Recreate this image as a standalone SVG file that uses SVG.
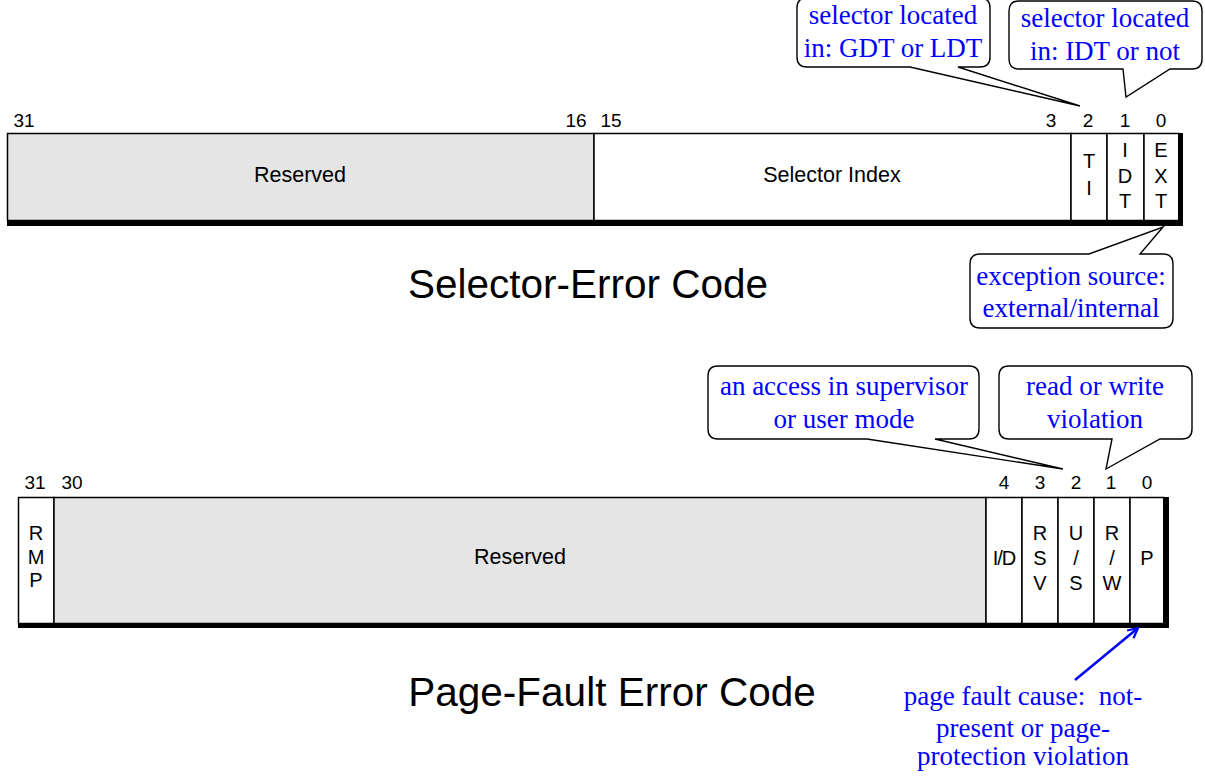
<svg xmlns="http://www.w3.org/2000/svg" width="1205" height="778" viewBox="0 0 1205 778">
<style>
.num{font-family:"Liberation Sans",Arial,sans-serif;font-size:19px;fill:#000;text-anchor:middle}
.let{font-family:"Liberation Sans",Arial,sans-serif;font-size:20px;fill:#000;text-anchor:middle}
.lbl{font-family:"Liberation Sans",Arial,sans-serif;font-size:21.5px;fill:#000;text-anchor:middle}
.ttl{font-family:"Liberation Sans",Arial,sans-serif;font-size:40.5px;fill:#000;text-anchor:middle}
.note{font-family:"Liberation Serif","Times New Roman",serif;font-size:27px;fill:#0000ff;text-anchor:middle}
.bub{fill:#fff;stroke:#000;stroke-width:1.4}
.box{fill:#fff;stroke:#000;stroke-width:1.5}
.res{fill:#e5e5e5;stroke:#000;stroke-width:1.5}
</style>
<defs>
<marker id="ah" viewBox="0 0 12 12" refX="11" refY="6" markerWidth="12" markerHeight="12" markerUnits="userSpaceOnUse" orient="auto">
<path d="M1,1 L11,6 L1,11" fill="none" stroke="#0000ff" stroke-width="2.2"/>
</marker>
</defs>
<rect width="1205" height="778" fill="#fff"/>

<g id="selector-register">
<rect class="res" x="7.5" y="133.5" width="586.5" height="87"/>
<rect class="box" x="594" y="133.5" width="477" height="87"/>
<rect class="box" x="1071" y="133.5" width="36" height="87"/>
<rect class="box" x="1107" y="133.5" width="37" height="87"/>
<rect class="box" x="1144" y="133.5" width="35" height="87"/>
<rect x="7" y="220" width="1176" height="6" fill="#000"/>
<rect x="1178" y="133" width="5" height="93" fill="#000"/>
<text class="num" x="24" y="127">31</text>
<text class="num" x="576" y="127">16</text>
<text class="num" x="611" y="127">15</text>
<text class="num" x="1051" y="127">3</text>
<text class="num" x="1088" y="127">2</text>
<text class="num" x="1125" y="127">1</text>
<text class="num" x="1161" y="127">0</text>
<text class="lbl" x="300" y="182">Reserved</text>
<text class="lbl" x="832" y="182">Selector Index</text>
<text class="let" x="1089" y="168">T</text>
<text class="let" x="1089" y="195">I</text>
<text class="let" x="1125" y="157">I</text>
<text class="let" x="1125" y="183">D</text>
<text class="let" x="1125" y="208">T</text>
<text class="let" x="1161" y="157">E</text>
<text class="let" x="1161" y="183">X</text>
<text class="let" x="1161" y="208">T</text>
</g>
<text class="ttl" x="588" y="298">Selector-Error Code</text>

<g id="pagefault-register">
<rect class="box" x="18.5" y="497.5" width="35.5" height="126"/>
<rect class="res" x="54" y="497.5" width="932" height="126"/>
<rect class="box" x="986" y="497.5" width="36" height="126"/>
<rect class="box" x="1022" y="497.5" width="36" height="126"/>
<rect class="box" x="1058" y="497.5" width="36" height="126"/>
<rect class="box" x="1094" y="497.5" width="36" height="126"/>
<rect class="box" x="1130" y="497.5" width="34" height="126"/>
<rect x="18" y="623" width="1151" height="5" fill="#000"/>
<rect x="1163" y="497" width="6" height="131" fill="#000"/>
<text class="num" x="35" y="489">31</text>
<text class="num" x="72" y="489">30</text>
<text class="num" x="1004" y="489">4</text>
<text class="num" x="1040" y="489">3</text>
<text class="num" x="1076" y="489">2</text>
<text class="num" x="1111" y="489">1</text>
<text class="num" x="1147" y="489">0</text>
<text class="let" x="36" y="540">R</text>
<text class="let" x="36" y="564">M</text>
<text class="let" x="36" y="587">P</text>
<text class="lbl" x="520" y="564">Reserved</text>
<text class="let" x="1004" y="565" style="letter-spacing:-1px">I/D</text>
<text class="let" x="1040" y="540">R</text>
<text class="let" x="1040" y="565">S</text>
<text class="let" x="1040" y="590">V</text>
<text class="let" x="1076" y="540">U</text>
<text class="let" x="1076" y="565">/</text>
<text class="let" x="1076" y="590">S</text>
<text class="let" x="1112" y="540">R</text>
<text class="let" x="1112" y="565">/</text>
<text class="let" x="1112" y="590">W</text>
<text class="let" x="1147" y="565">P</text>
</g>
<text class="ttl" x="612" y="706">Page-Fault Error Code</text>

<g id="callout-ti">
<path class="bub" d="M807,-2 H980 Q990,-2 990,8 V57 Q990,67 980,67 H958 L1080,106 L910,67 H807 Q797,67 797,57 V8 Q797,-2 807,-2 Z"/>
<text class="note" x="893" y="24">selector located</text>
<text class="note" x="893" y="57">in: GDT or LDT</text>
</g>
<g id="callout-idt">
<path class="bub" d="M1019,1 H1192 Q1202,1 1202,11 V59 Q1202,69 1192,69 H1170 L1126,97 L1123,69 H1019 Q1009,69 1009,59 V11 Q1009,1 1019,1 Z"/>
<text class="note" x="1105" y="27">selector located</text>
<text class="note" x="1105" y="60">in: IDT or not</text>
</g>
<g id="callout-ext">
<path class="bub" d="M980,254 H1089 L1163,227 L1140,254 H1163 Q1173,254 1173,264 V318 Q1173,328 1163,328 H980 Q970,328 970,318 V264 Q970,254 980,254 Z"/>
<text class="note" x="1071" y="285">exception source:</text>
<text class="note" x="1071" y="317">external/internal</text>
</g>
<g id="callout-us">
<path class="bub" d="M718,366 H969 Q979,366 979,376 V429 Q979,439 969,439 H935 L1063,469 L867,439 H718 Q708,439 708,429 V376 Q708,366 718,366 Z"/>
<text class="note" x="844" y="395">an access in supervisor</text>
<text class="note" x="844" y="428">or user mode</text>
</g>
<g id="callout-rw">
<path class="bub" d="M1009,366 H1182 Q1192,366 1192,376 V429 Q1192,439 1182,439 H1160 L1106,469 L1112,439 H1009 Q999,439 999,429 V376 Q999,366 1009,366 Z"/>
<text class="note" x="1095" y="395">read or write</text>
<text class="note" x="1095" y="428">violation</text>
</g>

<g id="connectors">
<line x1="1075" y1="680" x2="1138" y2="628" stroke="#0000ff" stroke-width="2.5" marker-end="url(#ah)"/>
</g>
<g id="note-p">
<text class="note" x="1023" y="705" xml:space="preserve">page fault cause:  not-</text>
<text class="note" x="1023" y="737">present or page-</text>
<text class="note" x="1023" y="765">protection violation</text>
</g>
</svg>
